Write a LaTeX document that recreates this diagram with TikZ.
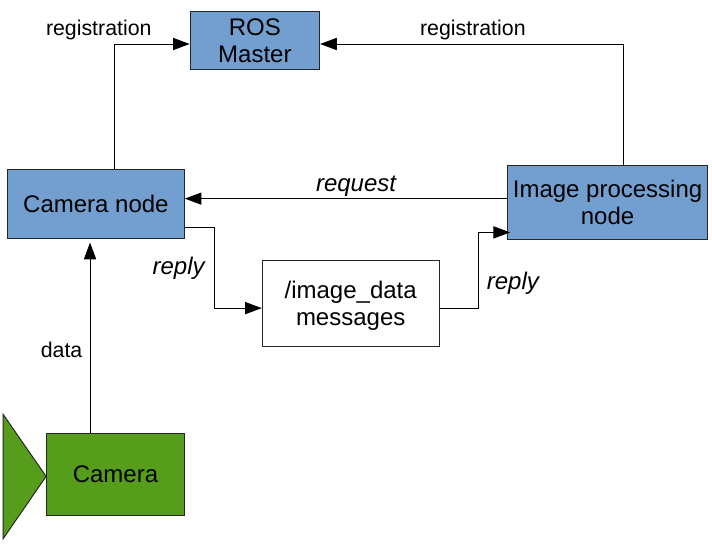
\documentclass[tikz,border=0pt]{standalone}
\usepackage{fontspec}
\setmainfont{Liberation Sans}
\usetikzlibrary{arrows.meta}
\usetikzlibrary{positioning}
\definecolor{nodeblue}{HTML}{729FCF}
\definecolor{cameragreen}{HTML}{579D1C}

\begin{document}
\begin{tikzpicture}[
    >={Triangle[width=3.2mm, length=4.4mm]},
    phase/.style = {
        rectangle,
        inner sep=0pt,
        align=center,
        draw=black!85,
        line width=0.75pt,
        font=\fontsize{18}{20}\selectfont,
      },
    rosnode/.style = {
        phase,
        fill=nodeblue,
      },
    camerapart/.style = {
        phase,
        fill=cameragreen,
      },
    edgetext/.style = {
        inner sep=0pt,
        font=\fontsize{16}{18}\selectfont,
      },
    replytext/.style = {
        inner sep=0pt,
        font=\fontsize{18}{20}\selectfont\itshape,
      },
    link/.style = {
        line width=0.75pt,
        draw=black,
      },
    ]
    \useasboundingbox (-6.72,1.07) rectangle (12.05,-13.25);

    \node (master) [rosnode, minimum width=3.41cm, minimum height=1.55cm] at (0,0) {ROS\\Master};
    \node (camera node) [rosnode, minimum width=4.66cm, minimum height=1.80cm, below left=2.61cm and 0.13cm of master] {Camera node};
    \node (image node) [rosnode, minimum width=5.27cm, minimum height=1.93cm, below right=2.50cm and 4.93cm of master] {Image processing\\node};
    \node (messages) [phase, text depth=0pt, minimum width=4.66cm, minimum height=2.27cm, below right=0.56cm and 2.03cm of camera node] {/image\_data\\messages};
    \node (camera) [camerapart, minimum width=3.63cm, minimum height=2.16cm, below=5.12cm of camera node.south east, anchor=north east] {Camera};

    \node (reg left) [edgetext, left=1.00cm of master.west, yshift=0.27cm] {registration};
    \node (reg right) [edgetext, right=2.63cm of master.east, yshift=0.27cm] {registration};
    \node (request) [replytext, left=2.92cm of image node.west, yshift=0.42cm] {request};
    \node (reply left) [replytext, left=1.50cm of messages.west, yshift=0.92cm] {reply};
    \node (reply right) [replytext, right=1.24cm of messages.east, yshift=0.53cm] {reply};
    \node (data) [edgetext, above=1.97cm of camera.north, xshift=-1.42cm] {data};

    \draw [camerapart] ([yshift=-0.05cm]camera.west) -- ++(-1.13,1.63) -- ++(0,-3.27) -- cycle;

    \draw [->, link] ([xshift=0.48cm]camera node.north) |- ([yshift=-0.09cm]master.west);
    \draw [->, link] ([xshift=0.41cm]image node.north) |- ([yshift=-0.09cm]master.east);
    \draw [->, link] ([yshift=0.145cm]camera node.east -| image node.west) -- ([yshift=0.145cm]camera node.east);
    \draw [->, link] ([yshift=-0.62cm]camera node.east) -- ++(0.79,0) |- ([yshift=-0.12cm]messages.west);
    \draw [->, link] ([yshift=-0.12cm]messages.east) -- ++(1.03,0) |- ([xshift=0.08cm, yshift=-0.79cm]image node.west);
    \draw [->, link, shorten >=0.1cm] ([xshift=-0.67cm]camera.north) -- ([xshift=-0.67cm]camera.north |- camera node.south);
  \end{tikzpicture}
\end{document}
